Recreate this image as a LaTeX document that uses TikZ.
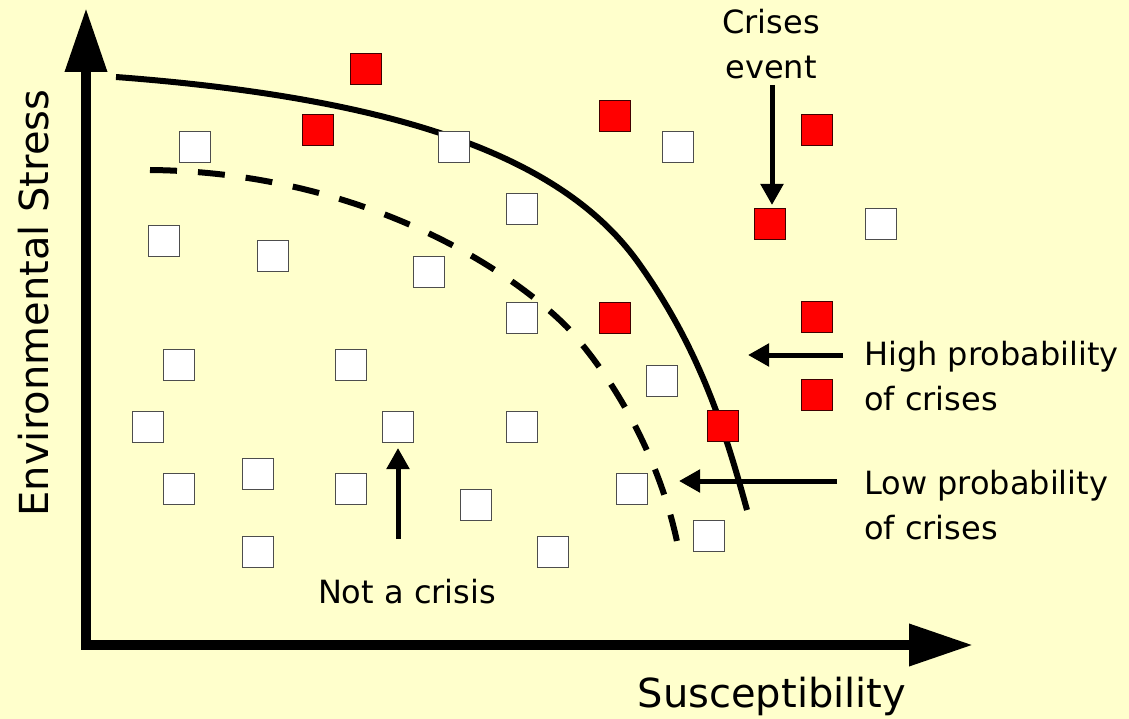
\documentclass[tikz,border=0pt]{standalone}
\usepackage{fontspec}
\setmainfont{DejaVu Sans}
\usetikzlibrary{arrows.meta}
\definecolor{bg}{HTML}{FFFFCC}
\definecolor{sqedge}{HTML}{4D4D4D}
\definecolor{redsq}{HTML}{FF0000}
\begin{document}
\begin{tikzpicture}[x=1pt,y=-1pt,
  sq/.style={line width=1pt, minimum size=31pt, inner sep=0pt},
  wsq/.style={sq, fill=white, draw=sqedge},
  rsq/.style={sq, fill=redsq, draw=black!75!red},
  axis/.style={line width=10pt, line join=miter, {Triangle[length=64pt,width=40pt]}-{Triangle[length=64pt,width=40pt]}},
  ptr/.style={line width=5pt, -{Triangle[length=21pt,width=22pt]}},
  bound/.style={line width=6pt, line cap=butt},
  lbl/.style={font=\fontsize{32}{45}\selectfont, inner sep=0pt, align=left},
  big/.style={font=\fontsize{40}{48}\selectfont, inner sep=0pt}]
\fill[bg] (0,0) rectangle (1129,719);
\useasboundingbox (0,0) rectangle (1129,719);

% axes
\coordinate (ytip) at (86,8);
\coordinate (O) at (86,645);
\coordinate (xtip) at (973,645);
\draw[axis] (ytip) -- (O) -- (xtip);

% boundaries
\draw[bound] (116,77) .. controls (420,100) and (570,165) .. (640,265)
                      .. controls (700,350) and (725,430) .. (747,510);
\draw[bound, dash pattern=on 27pt off 21pt] (150,170) .. controls (350,172) and (500,260) .. (567,327)
                      .. controls (620,385) and (665,470) .. (680,557);

% red squares
\node[rsq] (r1) at (366,69) {};
\node[rsq] (r2) at (318,130) {};
\node[rsq] (r3) at (615,116) {};
\node[rsq] (r4) at (817,130) {};
\node[rsq] (r5) at (770,224) {};
\node[rsq] (r6) at (615,318) {};
\node[rsq] (r7) at (817,317) {};
\node[rsq] (r8) at (817,395) {};
\node[rsq] (r9) at (723,426) {};

% white squares
\node[wsq] (w1) at (195,147) {};
\node[wsq] (w2) at (454,147) {};
\node[wsq] (w3) at (678,147) {};
\node[wsq] (w4) at (522,209) {};
\node[wsq] (w5) at (881,224) {};
\node[wsq] (w6) at (164,241) {};
\node[wsq] (w7) at (273,256) {};
\node[wsq] (w8) at (429,272) {};
\node[wsq] (w9) at (522,318) {};
\node[wsq] (w10) at (179,365) {};
\node[wsq] (w11) at (351,365) {};
\node[wsq] (w12) at (662,381) {};
\node[wsq] (w13) at (148,427) {};
\node[wsq] (w14) at (398,427) {};
\node[wsq] (w15) at (522,427) {};
\node[wsq] (w16) at (258,474) {};
\node[wsq] (w17) at (179,489) {};
\node[wsq] (w18) at (351,489) {};
\node[wsq] (w19) at (476,505) {};
\node[wsq] (w20) at (632,489) {};
\node[wsq] (w21) at (709,536) {};
\node[wsq] (w22) at (258,552) {};
\node[wsq] (w23) at (553,552) {};

% labels
\node[lbl, align=center, anchor=north] (crises) at (771,9) {Crises\\event};
\node[lbl, anchor=north west] (high) at (864,341) {High probability\\of crises};
\node[lbl, anchor=north west] (low) at (864,470) {Low probability\\of crises};
\node[lbl, anchor=base] (nocrisis) at (407,603) {Not a crisis};
\node[big, anchor=base] (susc) at (772,707) {Susceptibility};
\node[big, anchor=base, rotate=90] (env) at (48,303) {Environmental Stress};

% pointers
\coordinate (cTail) at (772,85);
\coordinate (cTip) at (772,205);
\draw[ptr] (cTail) -- (cTip);
\coordinate (nTail) at (398,539);
\coordinate (nTip) at (398,448);
\draw[ptr] (nTail) -- (nTip);
\coordinate (hTail) at (843,355);
\coordinate (hTip) at (748,355);
\draw[ptr] (hTail) -- (hTip);
\coordinate (lTail) at (837,481);
\coordinate (lTip) at (679,481);
\draw[ptr] (lTail) -- (lTip);
\end{tikzpicture}
\end{document}
